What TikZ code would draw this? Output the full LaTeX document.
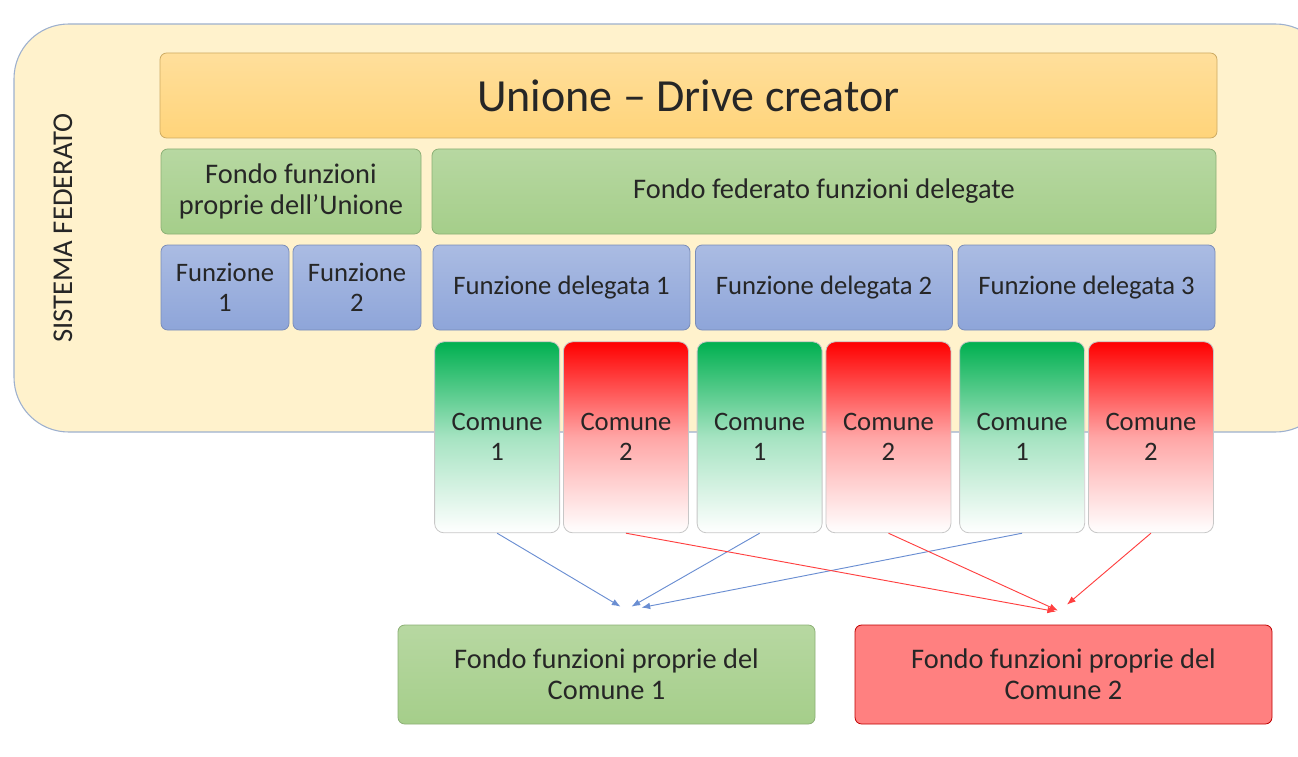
\documentclass[tikz,border=0pt]{standalone}
\usepackage{fontspec}
\setmainfont{Carlito}
\usepackage{xcolor}
\usepackage{tikz}
\usetikzlibrary{positioning,arrows.meta}
\definecolor{sfondo}{HTML}{FFF2CC}
\definecolor{bordosf}{HTML}{9DB0CF}
\definecolor{testo}{HTML}{262626}
\definecolor{arancio}{HTML}{FFD47A}
\definecolor{verdino}{HTML}{A5CE8A}
\definecolor{azzurro}{HTML}{8EA5D9}
\definecolor{verdecom}{HTML}{00B050}
\definecolor{frecciablu}{HTML}{6A8ED2}
\definecolor{frecciarossa}{HTML}{FF4040}
\def\testogrande{\fontsize{21.3}{23.2}\selectfont}
\def\testonormale{\fontsize{20}{22.5}\selectfont}
\tikzset{
  riquadro/.style={rounded corners=5pt, text=testo, align=center,
    font=\testonormale, inner sep=0pt, line width=0.6pt},
  unione/.style={riquadro, top color=arancio!75!white, bottom color=arancio,
    draw=arancio!80!black, minimum width=792.75pt, minimum height=63.75pt,
    font=\fontsize{34.5}{40}\selectfont},
  fondo/.style={riquadro, top color=verdino!80!white, bottom color=verdino,
    draw=verdino!85!black, minimum height=63.75pt, font=\testogrande},
  funzione/.style={riquadro, top color=azzurro!75!white, bottom color=azzurro,
    draw=azzurro!85!black, minimum height=63.75pt},
  comune/.style={riquadro, rounded corners=7pt, draw=black!22,
    minimum width=93.75pt, minimum height=143.25pt, bottom color=white},
  comuneverde/.style={comune, top color=verdecom, middle color=verdecom!35!white},
  comunerosso/.style={comune, top color=red, middle color=red!35!white},
  fondocomune/.style={riquadro, minimum width=312.75pt, minimum height=74.25pt,
    font=\testogrande},
  freccia/.style={-{Latex[length=6.5pt,width=5pt]}, line width=0.7pt},
}
\begin{document}
\begin{tikzpicture}[x=0.75pt, y=-0.75pt]
  \useasboundingbox (0,0) rectangle (1298,756);
  \clip (0,0) rectangle (1298,756);

  % sistema federato
  \draw[fill=sfondo, draw=bordosf, line width=0.8pt, rounded corners=41pt]
    (14,24) rectangle (1330,432);
  \node[rotate=90, text=testo, font=\fontsize{21.5}{24}\selectfont] (sistema)
    at (63,228) {SISTEMA FEDERATO};

  \node[unione] (unione) at (688.5,95.5) {Unione -- Drive creator};

  \node[fondo, minimum width=195pt] (fondoprop) at (291,191.5)
    {Fondo funzioni\\proprie dell’Unione};
  \node[fondo, minimum width=588pt] (fondofed) at (824,191.5)
    {Fondo federato funzioni delegate};

  \node[funzione, minimum width=96pt] (funz1) at (225,287.5) {Funzione\\1};
  \node[funzione, minimum width=96pt] (funz2) at (357,287.5) {Funzione\\2};
  \node[funzione, minimum width=192.75pt] (deleg1) at (561.5,287.5)
    {Funzione delegata 1};
  \node[funzione, minimum width=192.75pt] (deleg2) at (824,287.5)
    {Funzione delegata 2};
  \node[funzione, minimum width=192.75pt] (deleg3) at (1086.5,287.5)
    {Funzione delegata 3};

  % comuni sotto ogni funzione delegata
  \foreach \i in {1,2,3}{
    \node[comuneverde, anchor=north east] (com\i a)
      at ([xshift=-1.1pt, yshift=-8.25pt]deleg\i.south) {Comune\\1};
    \node[comunerosso, right=2.25pt of com\i a] (com\i b) {Comune\\2};
  }

  \node[fondocomune, top color=verdino!80!white, bottom color=verdino,
    draw=verdino!85!black] (fondoc1) at (606.5,674.5)
    {Fondo funzioni proprie del\\Comune 1};
  \node[fondocomune, fill=red!50!white, draw=red!75!black] (fondoc2)
    at (1063.5,674.5) {Fondo funzioni proprie del\\Comune 2};

  \coordinate (blu1) at ([xshift=10.5pt, yshift=13.5pt]fondoc1.north);
  \coordinate (blu2) at ([xshift=18.75pt, yshift=13.5pt]fondoc1.north);
  \coordinate (blu3) at ([xshift=26.25pt, yshift=12.75pt]fondoc1.north);
  \coordinate (rosso1) at ([xshift=-5.6pt, yshift=9.75pt]fondoc2.north);
  \coordinate (rosso2) at ([xshift=-4.1pt, yshift=10.5pt]fondoc2.north);
  \coordinate (rosso3) at ([xshift=2.6pt, yshift=15pt]fondoc2.north);

  \draw[freccia, frecciablu] (com1a.south) -- (blu1);
  \draw[freccia, frecciablu] (com2a.south) -- (blu2);
  \draw[freccia, frecciablu] (com3a.south) -- (blu3);
  \draw[freccia, frecciarossa] (com1b.south) -- (rosso1);
  \draw[freccia, frecciarossa] (com2b.south) -- (rosso2);
  \draw[freccia, frecciarossa] (com3b.south) -- (rosso3);
\end{tikzpicture}
\end{document}
